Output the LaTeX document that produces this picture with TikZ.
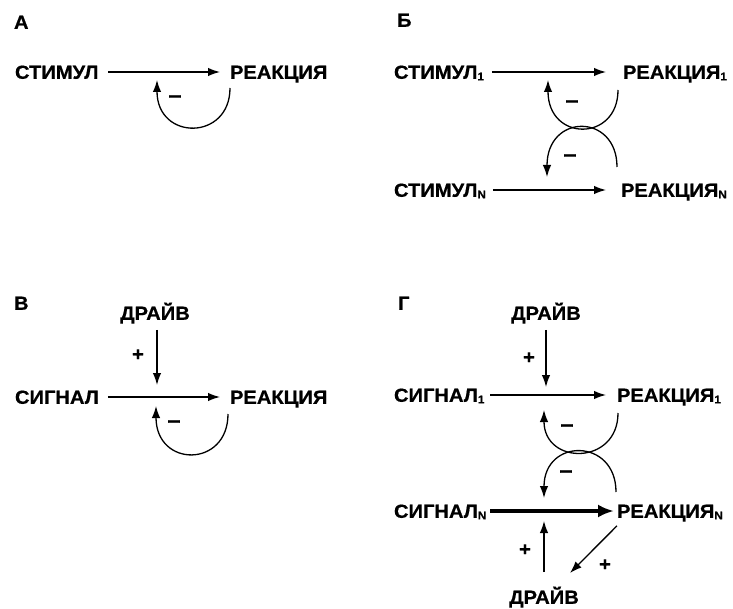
\documentclass[tikz,border=0pt]{standalone}
\usepackage{fontspec}
\setmainfont{Liberation Sans}[FakeStretch=1.06,FakeBold=0.6]
\usetikzlibrary{arrows.meta}
\newcommand{\subsc}[1]{\raisebox{-1.5pt}{\fontsize{11}{12}\selectfont #1}}
\tikzset{
  lbl/.style={font=\fontsize{19}{21}\selectfont\bfseries, inner sep=0pt, outer sep=0pt, text height=13.6pt, text depth=0pt},
  lw/.style={lbl, anchor=west},
  sgn/.style={font=\fontsize{19}{20}\selectfont\bfseries, inner sep=0pt},
  mns/.style={font=\fontsize{22}{22}\selectfont\bfseries, inner sep=0pt},
  arr/.style={line width=1.3pt, -{Latex[length=12pt,width=8.5pt]}},
  thickarr/.style={line width=3.8pt, -{Latex[length=16pt,width=13pt]}},
  loop/.style={line width=1.3pt, -{Latex[length=12pt,width=8.5pt]}}
}
\begin{document}
\begin{tikzpicture}[x=1pt,y=-1pt]
\useasboundingbox (0,0) rectangle (733,609);
% ---------- A ----------
\node[lw] (labA) at (14,22) {А};
\node[lw] (sA) at (15,72) {СТИМУЛ};
\node[lw] (rA) at (230,72) {РЕАКЦИЯ};
\draw[arr, shorten <=10pt, shorten >=10pt] (sA.east) -- (rA.west);
\coordinate (aS) at (230,88);
\coordinate (aT) at (157,80);
\draw[loop] (aS) .. controls (230,141) and (157,141) .. (aT);
\node[mns] (mA) at (175,99) {–};
% ---------- B ----------
\node[lw] (labB) at (397,20) {Б};
\node[lw] (s1B) at (394,72) {СТИМУЛ\subsc{1}};
\node[lw] (r1B) at (623,72) {РЕАКЦИЯ\subsc{1}};
\node[lw] (sNB) at (394,190) {СТИМУЛ\subsc{N}};
\node[lw] (rNB) at (621,190) {РЕАКЦИЯ\subsc{N}};
\coordinate (b1e) at (606,72);
\coordinate (bNe) at (606,190);
\draw[arr] (s1B.east |- b1e) ++(8,0) -- (b1e);
\draw[arr] (sNB.east |- bNe) ++(7,0) -- (bNe);
\coordinate (b1S) at (618,90);
\coordinate (b1T) at (548,80);
\coordinate (bNS) at (617,167);
\coordinate (bNT) at (547,177);
\draw[loop] (b1S) .. controls (618,142) and (548,142) .. (b1T);
\draw[loop] (bNS) .. controls (617,113) and (547,113) .. (bNT);
\node[mns] (m1B) at (572,104) {–};
\node[mns] (mNB) at (570,158) {–};
% ---------- V ----------
\node[lw] (labV) at (14,303) {В};
\node[lbl] (dV) at (155,313) {ДРАЙВ};
\node[lw] (sV) at (15,397) {СИГНАЛ};
\node[lw] (rV) at (230,397) {РЕАКЦИЯ};
\draw[arr, shorten <=9pt, shorten >=10pt] (sV.east) -- (rV.west);
\coordinate (dVt) at (157,385);
\draw[arr, shorten <=10pt] (dV.south -| dVt) -- (dVt);
\node[sgn] (pV) at (138,355) {+};
\coordinate (vS) at (228,414);
\coordinate (vT) at (156,406);
\draw[loop] (vS) .. controls (228,468) and (156,468) .. (vT);
\node[mns] (mV) at (174,424) {–};
% ---------- G ----------
\node[lw] (labG) at (398,303) {Г};
\node[lbl] (dG) at (546,313) {ДРАЙВ};
\node[lw] (s1G) at (394,395) {СИГНАЛ\subsc{1}};
\node[lw] (r1G) at (617,395) {РЕАКЦИЯ\subsc{1}};
\node[lw] (sNG) at (394,511) {СИГНАЛ\subsc{N}};
\node[lw] (rNG) at (617,511) {РЕАКЦИЯ\subsc{N}};
\node[lbl] (d2G) at (544,597) {ДРАЙВ};
\coordinate (g1e) at (606,395);
\coordinate (gNe) at (614,511);
\draw[arr] (s1G.east |- g1e) ++(6,0) -- (g1e);
\draw[thickarr] (sNG.east |- gNe) ++(4,0) -- (gNe);
\coordinate (dGt) at (546,387);
\draw[arr, shorten <=10pt] (dG.south -| dGt) -- (dGt);
\node[sgn] (pG1) at (529,358) {+};
\coordinate (g1S) at (618,413);
\coordinate (g1T) at (544,410);
\coordinate (gNS) at (616,492);
\coordinate (gNT) at (544,498);
\draw[loop] (g1S) .. controls (618,465.5) and (544,465.5) .. (g1T);
\draw[loop] (gNS) .. controls (616,437.7) and (544,437.7) .. (gNT);
\node[mns] (m1G) at (567,428) {–};
\node[mns] (mNG) at (566,474) {–};
\coordinate (upT) at (544,521);
\draw[arr, shorten <=18pt] (d2G.north -| upT) -- (upT);
\node[sgn] (pG2) at (525,550) {+};
\coordinate (dgT) at (570,573);
\draw[arr] ([yshift=-8pt]rNG.south west) -- (dgT);
\node[sgn] (pG3) at (605,565) {+};
\end{tikzpicture}
\end{document}
